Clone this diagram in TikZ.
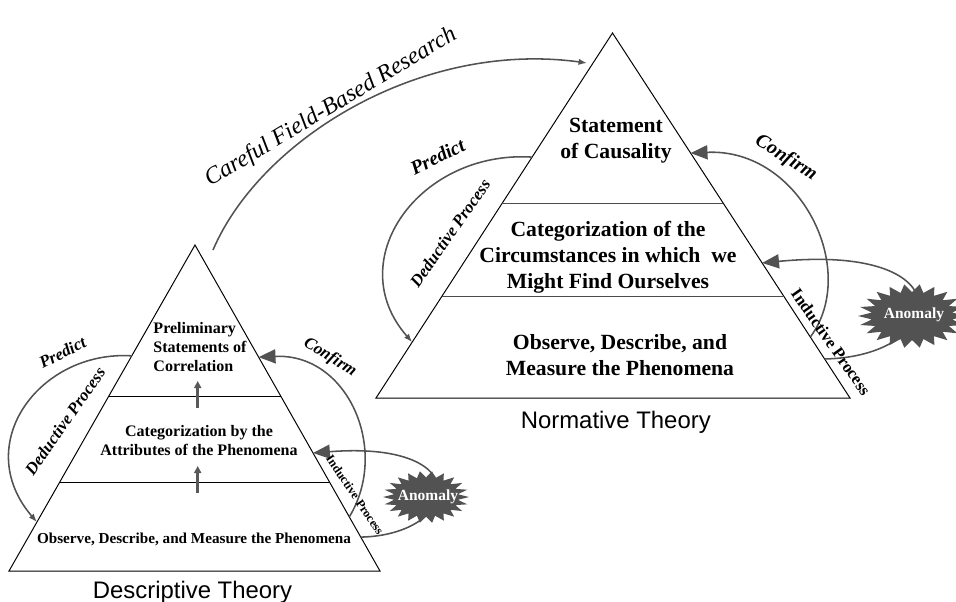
\documentclass[tikz,border=0pt]{standalone}
\usepackage{fontspec}
\setmainfont{Liberation Serif}
\setsansfont{Liberation Sans}
\usepackage{tikz}
\usetikzlibrary{calc,arrows.meta}

\begin{document}
\begin{tikzpicture}[x=0.025cm,y=-0.025cm,
    tri/.style={draw=black,line width=0.7pt},
    arc/.style={draw=black!68,line width=1.1pt},
    smalltip/.style={arc,-{Latex[length=6pt,width=4.5pt]}},
    bigtip/.style={arc,-{Triangle[length=12pt,width=10pt]}},
    uparrow/.style={draw=black!65,line width=1.8pt,-{Triangle[length=5pt,width=5pt]}},
    burst/.style={fill=black!68},
    anomtext/.style={text=white,font=\fontsize{11}{13}\selectfont\bfseries},
    levelsmall/.style={align=center,font=\fontsize{11.4}{13.5}\selectfont\bfseries},
    levelbig/.style={align=center,font=\fontsize{15.4}{18.5}\selectfont\bfseries},
    procsmall/.style={font=\fontsize{12}{14}\selectfont\bfseries\itshape},
    procbig/.style={font=\fontsize{14}{16}\selectfont\bfseries\itshape},
    theory/.style={font=\sffamily\fontsize{17}{20}\selectfont}]

  \useasboundingbox (0,0) rectangle (956,601);

  % descriptive theory
  \coordinate (lA) at (195,245);
  \coordinate (lB) at (9,571);
  \coordinate (lC) at (380,571);
  \draw[tri] (lA) -- (lB) -- (lC) -- cycle;
  \draw[tri] ($(lA)!0.466!(lB)$) -- ($(lA)!0.466!(lC)$);
  \draw[tri] ($(lA)!0.727!(lB)$) -- ($(lA)!0.727!(lC)$);

  \node[levelsmall,align=left] (prelim) at (200,347) {Preliminary\\Statements of\\Correlation};
  \node[levelsmall] (attrib) at (199,441) {Categorization by the\\Attributes of the Phenomena};
  \node[levelsmall,font=\fontsize{10.8}{13}\selectfont\bfseries] (obsL) at (194,539) {Observe, Describe, and Measure the Phenomena};
  \node[theory,anchor=base] (descr) at (192.5,598) {Descriptive Theory};

  \coordinate (up1a) at (197.7,408);
  \coordinate (up1b) at (197.7,381);
  \coordinate (up2a) at (197.7,493);
  \coordinate (up2b) at (197.7,466);
  \draw[uparrow] (up1a) -- (up1b);
  \draw[uparrow] (up2a) -- (up2b);

  \coordinate (ldedA) at ($(lA)!0.34!(lB)$);
  \coordinate (ldedB) at ($(lA)!0.85!(lB)$);
  \coordinate (lconfA) at ($(lA)!0.834!(lC)$);
  \coordinate (lconfB) at ($(lA)!0.344!(lC)$);
  \coordinate (lindA) at ($(lA)!0.896!(lC)$);
  \coordinate (lindB) at ($(lA)!0.638!(lC)$);
  \draw[smalltip] (ldedA) .. controls (40,350) and (-30,444) .. (ldedB);
  \draw[bigtip] (lconfA) .. controls (390,450) and (348,353) .. (lconfB);
  \draw[bigtip] (lindA) .. controls (460,535) and (480,440) .. (lindB);

  \node[procsmall,rotate=27] (predL) at (62.5,352.5) {Predict};
  \node[procsmall,rotate=55] (dedL) at (65,421) {Deductive Process};
  \node[procsmall,rotate=-32] (confL) at (330,357.5) {Confirm};
  \node[font=\fontsize{8.8}{10}\selectfont\bfseries,rotate=-56] (indL) at (355,495) {Inductive Process};

  % normative theory
  \coordinate (rA) at (612.5,33);
  \coordinate (rB) at (376,398);
  \coordinate (rC) at (850,398);
  \draw[tri] (rA) -- (rB) -- (rC) -- cycle;
  \draw[tri,draw=black!70] ($(rA)!0.466!(rB)$) -- ($(rA)!0.466!(rC)$);
  \draw[tri,draw=black!70] ($(rA)!0.723!(rB)$) -- ($(rA)!0.723!(rC)$);

  \node[levelbig] (causal) at (616,141) {Statement\\of Causality};
  \node[levelbig] (circum) at (608,257) {Categorization of the\\Circumstances in which \ we\\Might Find Ourselves};
  \node[levelbig] (obsR) at (620,355) {Observe, Describe, and\\Measure the Phenomena};
  \node[theory,anchor=base] (norm) at (615.8,428) {Normative Theory};

  \coordinate (rdedA) at ($(rA)!0.34!(rB)$);
  \coordinate (rdedB) at ($(rA)!0.847!(rB)$);
  \coordinate (rconfA) at ($(rA)!0.833!(rC)$);
  \coordinate (rconfB) at ($(rA)!0.329!(rC)$);
  \coordinate (rindA) at ($(rA)!0.893!(rC)$);
  \coordinate (rindB) at ($(rA)!0.63!(rC)$);
  \draw[smalltip] (rdedA) .. controls (420,150) and (340,260) .. (rdedB);
  \draw[bigtip] (rconfA) .. controls (860,270) and (800,148) .. (rconfB);
  \draw[bigtip] (rindA) .. controls (946,357) and (970,243) .. (rindB);

  \node[procbig,rotate=27] (predR) at (437.5,156.7) {Predict};
  \node[procsmall,rotate=55] (dedR) at (450,233) {Deductive Process};
  \node[procbig,rotate=-32] (confR) at (786,158) {Confirm};
  \node[font=\fontsize{11.9}{13}\selectfont\bfseries,rotate=-55] (indR) at (831,342) {Inductive Process};

  % field research
  \coordinate (fieldA) at (213,250);
  \coordinate (fieldB) at (587,63);
  \draw[smalltip] (fieldA) .. controls (260,140) and (420,40) .. (fieldB);
  \node[font=\itshape\fontsize{17}{20}\selectfont,rotate=31,anchor=base west,inner sep=0pt] (fieldlbl) at (210,187) {Careful Field-Based Research};

  % anomalies
  \foreach \cx/\cy/\rx/\ry in {426/497/43/26, 912/316/54/32}
    \fill[burst] plot[domain=0:360,samples=45,variable=\t]
      ({\cx+\rx*(1-0.25*mod(round(\t/8.1818),2))*cos(\t)},
       {\cy+\ry*(1-0.25*mod(round(\t/8.1818),2))*sin(\t)}) -- cycle;
  \node[anomtext] (anomL) at (428,497) {Anomaly};
  \node[anomtext] (anomR) at (914,315) {Anomaly};
\end{tikzpicture}
\end{document}
